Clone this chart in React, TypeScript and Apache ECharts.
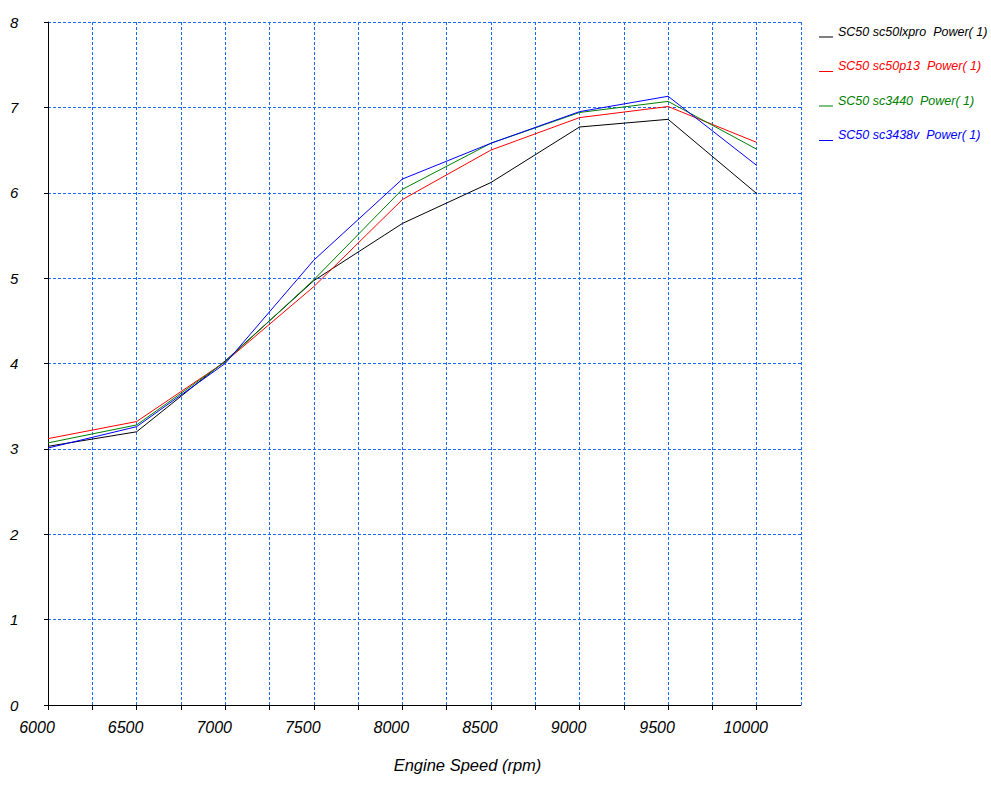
import React, { useEffect, useRef } from "react";
import * as echarts from "echarts";

const rpm = [6000, 6500, 7000, 7500, 8000, 8500, 9000, 9500, 10000];
const seriesNames = [
  "SC50 sc50lxpro  Power( 1)",
  "SC50 sc50p13  Power( 1)",
  "SC50 sc3440  Power( 1)",
  "SC50 sc3438v  Power( 1)",
];
const seriesColors = ["#000000", "#ff0000", "#008000", "#0000ff"];
const lxpro = [3.03, 3.2, 4.03, 4.97, 5.64, 6.12, 6.77, 6.86, 5.99];
const p13 = [3.12, 3.32, 4.02, 4.9, 5.92, 6.5, 6.88, 7.01, 6.59];
const s3440 = [3.07, 3.28, 4.02, 4.98, 6.04, 6.58, 6.94, 7.07, 6.51];
const s3438v = [3.01, 3.26, 4.0, 5.21, 6.16, 6.58, 6.95, 7.13, 6.32];
const seriesValues = [lxpro, p13, s3440, s3438v];

const FONT = "'Liberation Sans', Arial, sans-serif";

export default function App() {
  const ref = useRef<HTMLDivElement>(null);
  useEffect(() => {
    if (!ref.current) return;
    const chart = echarts.init(ref.current, undefined, { renderer: "svg" });
    const gridLine = { show: true, lineStyle: { color: "#1a6cf5", type: [3, 2] as any, width: 1 } };
    chart.setOption({
      animation: false,
      backgroundColor: "#ffffff",
      grid: { left: 48, top: 22, right: 190, bottom: 85, containLabel: false },
      legend: {
        orient: "vertical",
        left: 814,
        top: 20,
        itemWidth: 14,
        itemHeight: 12,
        itemGap: 21.5,
        icon: "path://M0,0L14,0L14,0.001L0,0.001Z M0,11L14,11L14,12L0,12Z",
        textStyle: { fontFamily: FONT, fontStyle: "italic", fontSize: 12.5 },
        data: seriesNames.map((n, i) => ({ name: n, textStyle: { color: seriesColors[i] } })),
      },
      xAxis: {
        type: "value",
        min: 6000,
        max: 10250,
        interval: 250,
        name: "Engine Speed (rpm)",
        nameLocation: "middle",
        nameGap: 51,
        nameTextStyle: {
          fontFamily: FONT,
          fontStyle: "italic",
          fontSize: 16.5,
          color: "#000",
          padding: [0, 0, 0, 86],
        },
        axisLine: { show: true, onZero: false, lineStyle: { color: "#000", width: 1 } },
        axisTick: { show: true, length: 5, lineStyle: { color: "#000" } },
        axisLabel: {
          fontFamily: FONT,
          fontStyle: "italic",
          fontSize: 16,
          color: "#000",
          margin: 14,
          padding: [0, 22, 0, 0],
          showMaxLabel: false,
          formatter: (v: number) => (v % 500 === 0 ? String(v) : ""),
        },
        splitLine: gridLine,
      },
      yAxis: {
        type: "value",
        min: 0,
        max: 8,
        interval: 1,
        axisLine: { show: true, lineStyle: { color: "#000", width: 1 } },
        axisTick: { show: true, length: 4, lineStyle: { color: "#000" } },
        axisLabel: {
          fontFamily: FONT,
          fontStyle: "italic",
          fontSize: 15,
          color: "#000",
          align: "left",
          margin: 38,
          padding: [0, 0, 8, 0],
        },
        splitLine: gridLine,
      },
      series: seriesNames.map((n, i) => ({
        name: n,
        type: "line",
        data: rpm.map((x, j) => [x, seriesValues[i][j]]),
        showSymbol: false,
        symbol: "none",
        lineStyle: { color: seriesColors[i], width: 1 },
        itemStyle: { color: seriesColors[i] },
      })),
    });
    return () => chart.dispose();
  }, []);
  return (
    <div
      ref={ref}
      style={{ position: "fixed", left: 0, top: 0, width: 991, height: 790, background: "#fff" }}
    />
  );
}
